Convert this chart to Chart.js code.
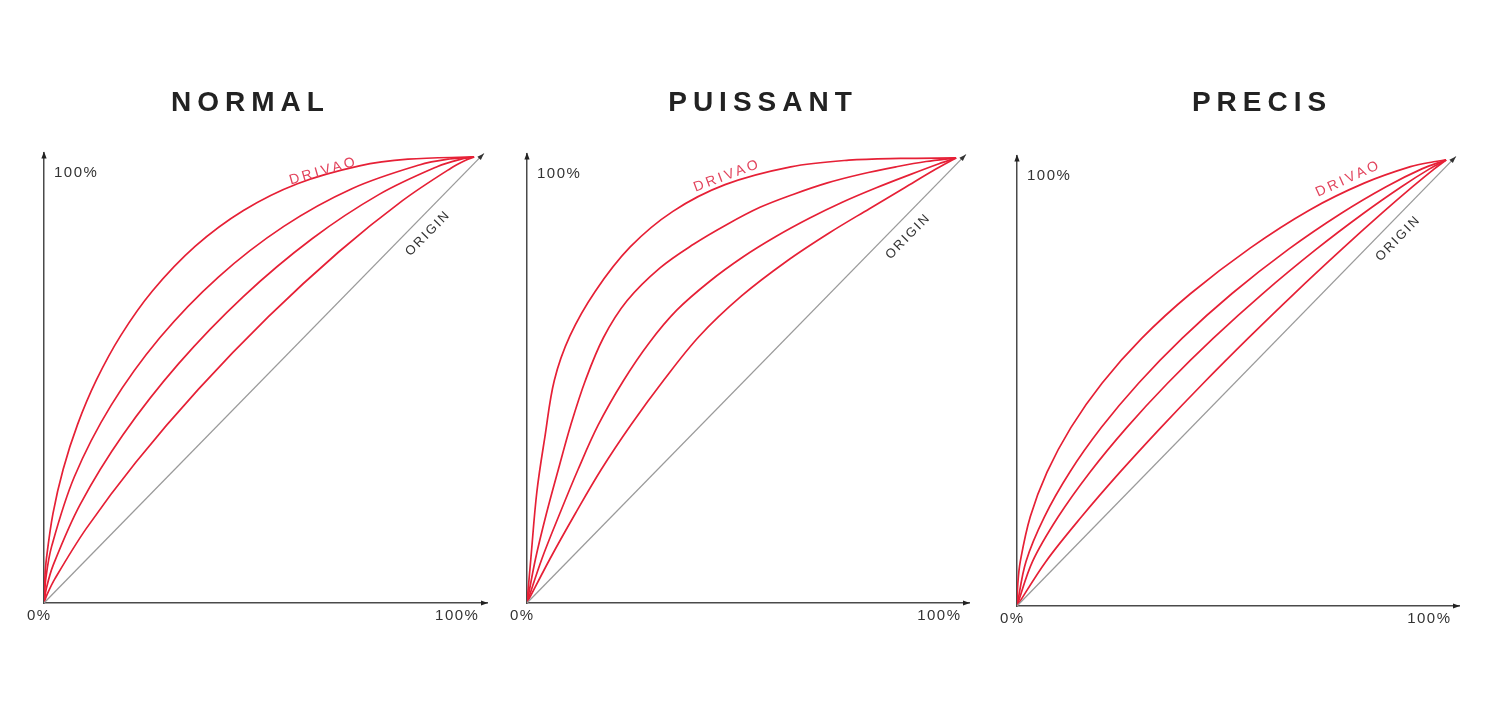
<!DOCTYPE html>
<html>
<head>
<meta charset="utf-8">
<script src="https://cdn.jsdelivr.net/npm/chart.js@4.4.1/dist/chart.umd.min.js"></script>
<style>
    html, body { margin: 0; padding: 0; background: #fff; }
    body { width: 1500px; height: 709px; position: relative; overflow: hidden; }
    canvas { position: absolute; top: 0; }
</style>
</head>
<body>
<canvas id="chartNormal" width="500" height="709" style="left:0px"></canvas>
<canvas id="chartPuissant" width="500" height="709" style="left:483px"></canvas>
<canvas id="chartPrecis" width="500" height="709" style="left:973px"></canvas>
<script>
// Values, [x %, y %]
const panelTitles = ['NORMAL', 'PUISSANT', 'PRECIS'];
const curveLabel = 'DRIVAO';
const originLabel = 'ORIGIN';
const axisLabels = ['0%', '100%'];

const originLine = [[0, 0], [102.3, 100.8]];

const normalCurve1 = [[0,0],[0.16,5],[0.57,10],[2.07,20],[4.46,30],[7.79,40],[12.19,50],[17.87,60],[25.25,70],[35.19,80],[46.37,88],[58.92,94],[73.34,98],[84.65,99.5],[100,100]];
const normalCurve2 = [[0,0],[0.45,5.66],[1.79,12.75],[7.06,28.3],[15.56,44.25],[26.92,59.46],[40.54,73.08],[55.75,84.44],[71.7,92.94],[87.25,98.21],[94.34,99.55],[100,100]];
const normalCurve3 = [[0,0],[0.54,3.22],[2.14,8.49],[8.39,22.07],[18.33,37.67],[31.3,53.66],[46.34,68.7],[62.33,81.67],[77.93,91.61],[91.51,97.87],[96.78,99.46],[100,100]];
const normalCurve4 = [[0,0],[0.63,1.71],[2.52,5.4],[9.85,16.73],[21.31,31.5],[35.87,47.88],[52.12,64.13],[68.5,78.69],[83.27,90.15],[94.6,97.48],[98.29,99.37],[100,100]];

const puissantCurve1 = [[0,0],[0.9,10],[2.3,25],[4.2,37.5],[6.36,50],[10,60],[15.88,70],[24.05,80],[34,88],[46.15,94],[61.46,98],[74.96,99.5],[87,99.9],[100,100]];
const puissantCurve2 = [[0,0],[2,10],[4.5,20],[7.3,30],[10.2,40],[13.6,50],[17.8,59.6],[23.3,67.9],[31,75.3],[38.8,80.6],[46.5,85],[54.3,88.9],[62,91.8],[70,94.4],[78,96.4],[86,98],[93,99.2],[100,100]];
const puissantCurve3 = [[0,0],[3.5,10],[7.6,20],[11.9,30],[16.6,40],[22.5,50],[28.5,58.5],[34.9,65.8],[42.6,72.3],[50.4,77.8],[58.1,82.4],[65.9,86.5],[73.6,90.1],[81.4,93.3],[89.1,96.2],[96,98.7],[100,100]];
const puissantCurve4 = [[0,0],[5.4,10],[11.2,20],[17.3,30],[24.2,40],[31.8,50],[40.2,60],[50,69],[60.5,76.8],[70.5,83.2],[79.8,88.6],[88,93.3],[94.6,97.1],[100,100]];

const precisCurve1 = [[0,0],[0.19,5],[0.77,10],[3.09,20],[7,30],[12.55,40],[19.85,50],[29.05,60],[40.4,70],[54.4,80.3],[68.2,88.8],[80.9,94.8],[91.7,98.5],[97.1,99.6],[100,100]];
const precisCurve2 = [[0,0],[2.1,10],[6.39,20],[12.29,30],[19.64,40],[28.37,50],[38.46,60],[50.04,70],[63.31,80],[75.49,88],[86.02,94],[94.35,98],[100,100]];
const precisCurve3 = [[0,0],[3.63,10],[9.6,20],[17,30],[25.56,40],[35.14,50],[45.7,60],[57.21,70],[69.76,80],[80.69,88],[89.6,94],[96.14,98],[100,100]];
const precisCurve4 = [[0,0],[6.75,10],[15.03,20],[24,30],[33.52,40],[43.47,50],[53.83,60],[64.56,70],[75.72,80],[84.97,88],[92.19,94],[97.25,98],[100,100]];

const RED = '#e62036';
const AXIS = '#4a4a4a';

function toPoints(arr) {
    return arr.map(p => ({ x: p[0], y: p[1] }));
}

function arrowHead(ctx, x, y, angle, len, half) {
    ctx.save();
    ctx.translate(x, y);
    ctx.rotate(angle);
    ctx.beginPath();
    ctx.moveTo(0, 0);
    ctx.lineTo(-len, -half);
    ctx.lineTo(-len, half);
    ctx.closePath();
    ctx.fill();
    ctx.restore();
}

// interpolate a dataset's drawn points at pixel x
function curveYAt(points, px) {
    for (let i = 1; i < points.length; i++) {
        const a = points[i - 1], b = points[i];
        if (px <= b.x) {
            const t = (px - a.x) / ((b.x - a.x) || 1);
            return a.y + t * (b.y - a.y);
        }
    }
    return points[points.length - 1].y;
}

const decorPlugin = {
    id: 'decor',
    afterDraw(chart, args, opts) {
        const ctx = chart.ctx;
        const xs = chart.scales.x, ys = chart.scales.y;
        const area = chart.chartArea;
        const x0 = xs.getPixelForValue(0), y0 = ys.getPixelForValue(0);
        const x100 = xs.getPixelForValue(100), y100 = ys.getPixelForValue(100);

        ctx.save();

        // Title
        ctx.fillStyle = '#222';
        ctx.font = 'bold 28px "Liberation Sans", Arial, sans-serif';
        ctx.letterSpacing = '6px';
        ctx.textAlign = 'center';
        ctx.textBaseline = 'alphabetic';
        ctx.fillText(opts.title, opts.titleX + 3, 111);

        // Axis arrows
        ctx.fillStyle = '#222';
        arrowHead(ctx, area.right + 1, y0, 0, 7, 2.6);
        arrowHead(ctx, x0, area.top - 1, -Math.PI / 2, 7, 2.6);

        // Origin line arrow
        const diag = chart.getDatasetMeta(0).data;
        const dA = diag[0], dB = diag[diag.length - 1];
        const diagAng = Math.atan2(dB.y - dA.y, dB.x - dA.x);
        ctx.fillStyle = '#333';
        arrowHead(ctx, dB.x, dB.y, diagAng, 7, 2.4);

        // Axis labels
        ctx.fillStyle = '#333';
        ctx.font = '15px "Liberation Sans", Arial, sans-serif';
        ctx.letterSpacing = '1.5px';
        ctx.textAlign = 'left';
        ctx.fillText(axisLabels[0], x0 - 17, y0 + 17);
        ctx.fillText(axisLabels[1], x100 - 39, y0 + 17);
        ctx.fillText(axisLabels[1], x0 + 10, y100 + 20);

        // DRIVAO along the top curve
        const top = chart.getDatasetMeta(1).data.map(e => ({ x: e.x, y: e.y }));
        const lx = xs.getPixelForValue(opts.labelX);
        const ly = curveYAt(top, lx);
        const ang = Math.atan2(curveYAt(top, lx + 25) - curveYAt(top, lx - 25), 50);
        const off = opts.labelOffset;
        ctx.save();
        ctx.translate(lx + Math.sin(ang) * off, ly - Math.cos(ang) * off);
        ctx.rotate(ang);
        ctx.fillStyle = '#e2435c';
        ctx.font = '14px "Liberation Sans", Arial, sans-serif';
        ctx.letterSpacing = '3px';
        ctx.textAlign = 'center';
        ctx.textBaseline = 'middle';
        ctx.fillText(curveLabel, 1.5, 0);
        ctx.restore();

        // ORIGIN below the diagonal
        const ox = xs.getPixelForValue(opts.originX);
        const t = (ox - dA.x) / (dB.x - dA.x);
        const oy = dA.y + t * (dB.y - dA.y);
        ctx.save();
        ctx.translate(ox - Math.sin(diagAng) * 16, oy + Math.cos(diagAng) * 16);
        ctx.rotate(diagAng);
        ctx.fillStyle = '#333';
        ctx.font = '13px "Liberation Sans", Arial, sans-serif';
        ctx.letterSpacing = '2px';
        ctx.textAlign = 'center';
        ctx.textBaseline = 'middle';
        ctx.fillText(originLabel, 1, 0);
        ctx.restore();

        ctx.restore();
    }
};

function makeChart(id, title, curves, padding, decor) {
    const datasets = [{
        data: toPoints(originLine),
        borderColor: '#9a9a9a',
        borderWidth: 1.3,
        pointRadius: 0,
        tension: 0
    }];
    curves.forEach(c => {
        datasets.push({
            data: toPoints(c),
            borderColor: RED,
            borderWidth: 1.7,
            pointRadius: 0,
            tension: 0.35
        });
    });

    return new Chart(document.getElementById(id), {
        type: 'line',
        data: { datasets: datasets },
        options: {
            responsive: false,
            animation: false,
            layout: { padding: padding },
            scales: {
                x: {
                    type: 'linear', min: 0, max: 103,
                    grid: { display: false },
                    ticks: { display: false },
                    border: { display: true, color: AXIS, width: 1.5 },
                    afterFit: s => { s.height = 0; }
                },
                y: {
                    type: 'linear', min: 0, max: 101,
                    grid: { display: false },
                    ticks: { display: false },
                    border: { display: true, color: AXIS, width: 1.5 },
                    afterFit: s => { s.width = 0; }
                }
            },
            plugins: {
                legend: { display: false },
                tooltip: { enabled: false },
                decor: Object.assign({ title: title }, decor)
            }
        },
        plugins: [decorPlugin]
    });
}

makeChart('chartNormal', panelTitles[0],
    [normalCurve1, normalCurve2, normalCurve3, normalCurve4],
    { left: 44, right: 13, top: 152.5, bottom: 106 },
    { titleX: 247.5, labelX: 65, labelOffset: 5, originX: 86.5 });

makeChart('chartPuissant', panelTitles[1],
    [puissantCurve1, puissantCurve2, puissantCurve3, puissantCurve4],
    { left: 44, right: 14, top: 153.5, bottom: 106 },
    { titleX: 277, labelX: 47, labelOffset: 8, originX: 86 });

makeChart('chartPrecis', panelTitles[2],
    [precisCurve1, precisCurve2, precisCurve3, precisCurve4],
    { left: 44, right: 14, top: 155.5, bottom: 103 },
    { titleX: 286, labelX: 78, labelOffset: 11, originX: 86 });
</script>
</body>
</html>
